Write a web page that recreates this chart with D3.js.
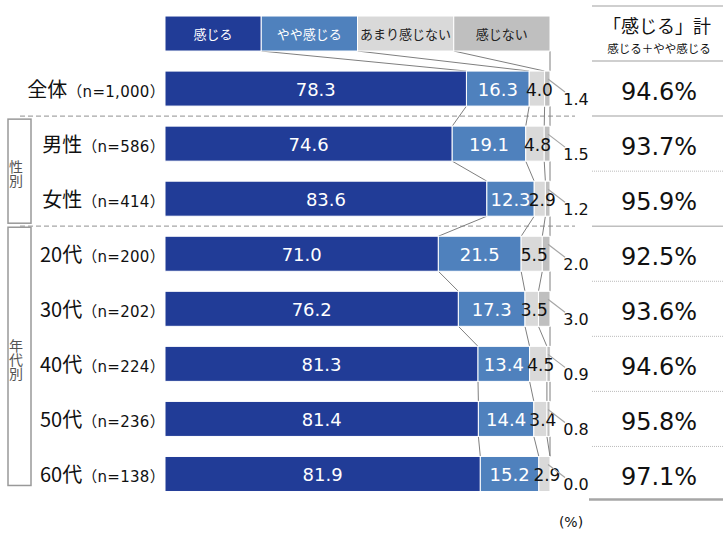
<!DOCTYPE html>
<html><head><meta charset="utf-8">
<script src="https://cdn.jsdelivr.net/npm/d3@7/dist/d3.min.js"></script>
<style>body{margin:0;background:#fff}svg{display:block}</style>
</head><body><svg id="c" width="723" height="533"></svg>
<script>
// ---- data ----
const seriesNames = ["感じる", "やや感じる", "あまり感じない", "感じない"];
const rowNames = ["全体", "男性", "女性", "20代", "30代", "40代", "50代", "60代"];
const rowN = ["（n=1,000）", "（n=586）", "（n=414）", "（n=200）", "（n=202）", "（n=224）", "（n=236）", "（n=138）"];
const kanjiru = [78.3, 74.6, 83.6, 71.0, 76.2, 81.3, 81.4, 81.9];
const yaya = [16.3, 19.1, 12.3, 21.5, 17.3, 13.4, 14.4, 15.2];
const amari = [4.0, 4.8, 2.9, 5.5, 3.5, 4.5, 3.4, 2.9];
const kanjinai = [1.4, 1.5, 1.2, 2.0, 3.0, 0.9, 0.8, 0.0];
const totalValues = [94.6, 93.7, 95.9, 92.5, 93.6, 94.6, 95.8, 97.1];
const headerShares = [25, 25, 25, 25];
const groups = [
  {label: "性別", from: "男性", to: "女性"},
  {label: "年代別", from: "20代", to: "60代"}
];
const tableTitle = "「感じる」計";
const tableSub = "感じる＋やや感じる";

// ---- styles ----
const colors = ["#213c97", "#4f81bd", "#d9d9d9", "#bfbfbf"];
const headerText = ["#ffffff", "#ffffff", "#222222", "#222222"];
const JP = "'Noto Sans CJK JP', 'Noto Sans', sans-serif";
const NUM = "'DejaVu Sans', 'Noto Sans CJK JP', sans-serif";

const svg = d3.select("#c");
const x = d3.scaleLinear().domain([0, 100]).range([165, 550]);
const y = d3.scaleBand().domain(["__header", ...rowNames]).range([6, 501.5])
  .paddingInner(0.364).paddingOuter(0.182);
const bw = y.bandwidth();
const gapHalf = (y.step() - bw) / 2;

const rows = rowNames.map((name, i) => {
  const vals = [kanjiru[i], yaya[i], amari[i], kanjinai[i]];
  let c = 0;
  const segs = vals.map((v, k) => { const s = {k, v, x0: c, x1: c + v}; c += v; return s; });
  return {name, n: rowN[i], vals, segs, total: totalValues[i]};
});
let hc = 0;
const headerSegs = headerShares.map((v, k) => { const s = {k, v, x0: hc, x1: hc + v}; hc += v; return s; });

// ---- dashed separators ----
const sepAfter = ["全体", "女性"];
sepAfter.forEach(r => {
  const yy = y(r) + bw + gapHalf;
  svg.append("line").attr("x1", 20).attr("x2", 575).attr("y1", yy).attr("y2", yy)
    .attr("stroke", "#a6a6a6").attr("stroke-width", 1.2).attr("stroke-dasharray", "5,3");
});

// ---- series lines ----
const chain = [{key: "__header", segs: headerSegs}, ...rows.map(r => ({key: r.name, segs: r.segs}))];
for (let i = 0; i < chain.length - 1; i++) {
  const a = chain[i], b = chain[i + 1];
  for (let k = 0; k < 4; k++) {
    svg.append("line")
      .attr("x1", x(Math.min(a.segs[k].x1, 100))).attr("y1", y(a.key) + bw)
      .attr("x2", x(Math.min(b.segs[k].x1, 100))).attr("y2", y(b.key))
      .attr("stroke", "#7f7f7f").attr("stroke-width", 1);
  }
}

// ---- header legend boxes ----
const hg = svg.append("g");
hg.selectAll("rect").data(headerSegs).join("rect")
  .attr("x", d => x(d.x0)).attr("width", d => x(d.x1) - x(d.x0))
  .attr("y", y("__header")).attr("height", bw)
  .attr("fill", d => colors[d.k]).attr("stroke", "#fff").attr("stroke-width", 1);
hg.selectAll("text").data(headerSegs).join("text")
  .attr("x", d => (x(d.x0) + x(d.x1)) / 2).attr("y", y("__header") + bw / 2 + 5)
  .attr("text-anchor", "middle").attr("font-family", JP).attr("font-size", 13)
  .attr("fill", d => headerText[d.k]).text(d => seriesNames[d.k]);

// ---- bars ----
const fmt = d3.format(".1f");
const rg = svg.selectAll("g.row").data(rows).join("g").attr("class", "row");
rg.selectAll("rect").data(d => d.segs.filter(s => s.v > 0)).join("rect")
  .attr("x", s => x(s.x0)).attr("width", s => x(s.x1) - x(s.x0))
  .attr("y", function() { return y(d3.select(this.parentNode).datum().name); })
  .attr("height", bw)
  .attr("fill", s => colors[s.k]).attr("stroke", "#fff").attr("stroke-width", 1);

rows.forEach(r => {
  const cy = y(r.name) + bw / 2;
  // inside labels
  r.segs.slice(0, 3).forEach(s => {
    svg.append("text")
      .attr("x", (x(s.x0) + x(s.x1)) / 2 + (s.k === 2 ? 2.5 : 0)).attr("y", cy + 7)
      .attr("text-anchor", "middle").attr("font-family", NUM)
      .attr("font-size", s.k === 2 ? 17 : 18)
      .attr("fill", s.k === 2 ? "#111" : "#fff").text(fmt(s.v));
  });
  // outside label for 感じない
  const s4 = r.segs[3];
  svg.append("line").attr("x1", x(100) - 2).attr("y1", y(r.name) + 8)
    .attr("x2", 565).attr("y2", y(r.name) + 21)
    .attr("stroke", "#a6a6a6").attr("stroke-width", 1.2);
  svg.append("text").attr("x", 576).attr("y", cy + 16)
    .attr("text-anchor", "middle").attr("font-family", NUM).attr("font-size", 16)
    .attr("fill", "#111").text(fmt(s4.v));
  // row label
  const t = svg.append("text").attr("x", 165).attr("y", cy + 8).attr("text-anchor", "end")
    .attr("fill", "#111");
  t.append("tspan").attr("font-family", JP).attr("font-size", 20).text(r.name);
  t.append("tspan").attr("font-family", NUM).attr("font-size", 15).attr("letter-spacing", 0.3).text(r.n);
});

// ---- group boxes ----
groups.forEach((g, gi) => {
  const top = y(g.from) - (gi === 0 ? 7 : 9);
  const bot = y(g.to) + bw + (gi === 0 ? 7 : -6);
  svg.append("rect").attr("x", 8).attr("y", top).attr("width", 23).attr("height", bot - top)
    .attr("fill", "none").attr("stroke", "#999").attr("stroke-width", 1.5);
  svg.append("text").attr("x", 16).attr("y", (top + bot) / 2 + 3)
    .attr("writing-mode", "vertical-rl").attr("text-anchor", "middle")
    .attr("font-family", JP).attr("font-size", 14).attr("fill", "#555")
    .text(g.label);
});

// ---- right table ----
const tx0 = 592, tx1 = 723, tcx = 659;
const hTop = y("__header") - gapHalf;
svg.append("line").attr("x1", tx0).attr("x2", tx1).attr("y1", hTop).attr("y2", hTop)
  .attr("stroke", "#bfbfbf").attr("stroke-width", 1.5);
svg.append("text").attr("x", tcx - 2).attr("y", 33).attr("text-anchor", "middle")
  .attr("font-family", JP).attr("font-size", 18).attr("fill", "#111").text(tableTitle);
svg.append("text").attr("x", tcx).attr("y", 53).attr("text-anchor", "middle")
  .attr("font-family", JP).attr("font-size", 11.5).attr("fill", "#111").text(tableSub);
const solidAfter = ["__header", "全体", "女性"];
["__header", ...rowNames].forEach((k, i) => {
  const yy = y(k) + bw + gapHalf;
  const last = i === rowNames.length;
  const solid = solidAfter.includes(k);
  svg.append("line").attr("x1", last ? 589 : tx0).attr("x2", tx1).attr("y1", last ? yy - 2 : yy).attr("y2", last ? yy - 2 : yy)
    .attr("stroke", last ? "#a6a6a6" : (solid ? "#bfbfbf" : "#bbb"))
    .attr("stroke-width", last ? 2.5 : (solid ? 1.5 : 1))
    .attr("stroke-dasharray", (solid || last) ? null : "1,1");
});
rows.forEach(r => {
  svg.append("text").attr("x", tcx).attr("y", y(r.name) + bw / 2 + 11)
    .attr("text-anchor", "middle").attr("font-family", NUM).attr("font-size", 24)
    .attr("fill", "#111").text(fmt(r.total) + "%");
});

// ---- unit ----
svg.append("text").attr("x", 571).attr("y", 527).attr("text-anchor", "middle")
  .attr("font-family", NUM).attr("font-size", 14).attr("fill", "#111").text("(%)");
</script></body></html>
